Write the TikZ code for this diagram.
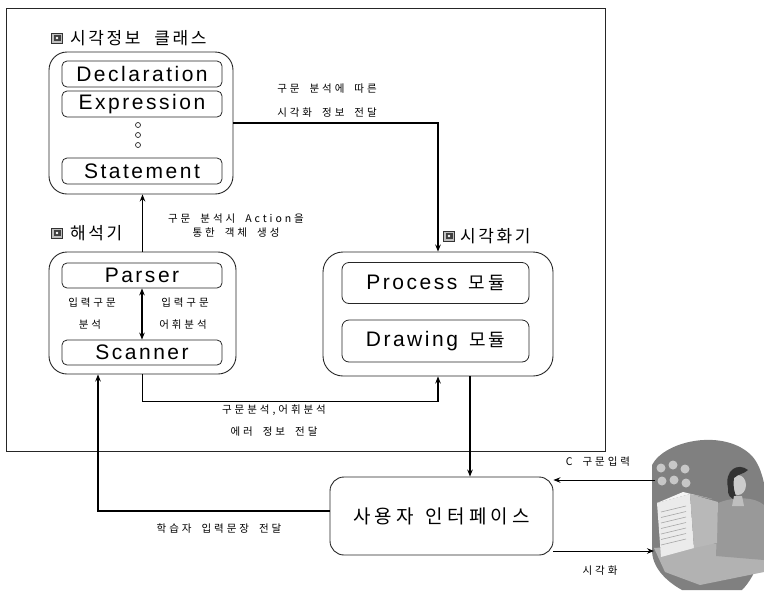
\documentclass[tikz,border=0pt]{standalone}
\usepackage{fontspec}
\setmainfont{Liberation Sans}
\newfontfamily\latw[LetterSpace=12]{Liberation Sans}
\newfontfamily\krt[LetterSpace=15,WordSpace=2.2]{Noto Sans CJK KR}
\newfontfamily\kru[LetterSpace=22,WordSpace=1.4]{Noto Sans CJK KR}
\newfontfamily\krs[LetterSpace=28,WordSpace=1.9]{Noto Sans CJK KR}
\usetikzlibrary{arrows.meta,calc}

\begin{document}
\begin{tikzpicture}[x=1pt,y=-1pt,
  grp/.style={draw=black!85,line width=0.9pt,rounded corners=18pt,inner sep=0pt},
  part/.style={draw=black!85,line width=0.8pt,rounded corners=5pt,inner sep=0pt,
    minimum width=160pt,minimum height=26pt,font=\fontsize{21}{21}\selectfont\latw},
  modbox/.style={part,minimum width=187pt,minimum height=41pt,rounded corners=7pt},
  arr/.style={line width=1.5pt,-{Stealth[length=7pt,width=5.5pt]}},
  dblarr/.style={line width=1.5pt,{Stealth[length=7pt,width=5.5pt]}-{Stealth[length=7pt,width=5.5pt]}},
  lbl/.style={font=\fontsize{10.5}{12}\selectfont\krs,inner sep=0pt},
  ttl/.style={font=\fontsize{17}{19}\selectfont\krt,inner sep=0pt,anchor=west},
  icon/.style={draw=black!80,line width=0.6pt,fill=black!25,minimum width=11pt,minimum height=10pt,inner sep=0pt,
    path picture={\fill[black!75]([shift={(2pt,-2pt)}]path picture bounding box.north west)
      rectangle ([shift={(-2pt,2pt)}]path picture bounding box.south east);
      \fill[white] (path picture bounding box.center) circle (1.3pt);}},
  dot/.style={circle,draw=black!85,line width=0.7pt,minimum size=5pt,inner sep=0pt}
]
\useasboundingbox (0,0) rectangle (764,590);

% outer frame of the system
\draw[black!85,line width=0.9pt] (6,8) rectangle (605,451);

% visual information classes
\node[icon] (ic1) at (57,38) {};
\node[ttl] (t1) at (70,38) {시각정보 클래스};
\node[grp,minimum width=184pt,minimum height=142pt] (cls) at (141,123) {};
\node[part] (decl) at (142,74) {Declaration};
\node[part] (expr) at (142,104) {Expression};
\node[dot] (d1) at (138,125) {};
\node[dot] (d2) at (138,135) {};
\node[dot] (d3) at (138,145) {};
\node[part] (stmt) at (142,171) {Statement};

% interpreter
\node[icon] (ic2) at (57,233) {};
\node[ttl] (t2) at (70,233) {해석기};
\node[grp,minimum width=187pt,minimum height=122pt] (psg) at (142.5,313) {};
\node[part,minimum height=25pt] (parser) at (142,275.5) {Parser};
\node[part,minimum height=25pt] (scanner) at (142,352.5) {Scanner};

% visualizer
\node[icon] (ic3) at (449,236) {};
\node[ttl] (t3) at (460,236) {시각화기};
\node[grp,rounded corners=20pt,minimum width=230pt,minimum height=124pt] (vis) at (438,314) {};
\node[modbox] (proc) at (435.5,283) {Process\hspace{3pt} {\fontsize{18}{18}\selectfont\krt 모듈}};
\node[modbox,minimum height=42pt] (draw) at (435.5,341) {Drawing\hspace{3pt} {\fontsize{18}{18}\selectfont\krt 모듈}};

% user interface
\node[grp,rounded corners=14pt,minimum width=223pt,minimum height=78pt,
  font=\fontsize{19}{19}\selectfont\kru] (ui) at (441.5,516) {사용자 인터페이스};

% labels
\node[lbl] (l1) at (327,89) {구문 분석에 따른};
\node[lbl] (l2) at (327,113) {시각화 정보 전달};
\node[lbl] (l3) at (236,219) {구문 분석시 Action을};
\node[lbl] (l4) at (236,233) {통한 객체 생성};
\node[lbl] (l5) at (92,303) {입력구문};
\node[lbl] (l6) at (90,325) {분석};
\node[lbl] (l7) at (185,303) {입력구문};
\node[lbl] (l8) at (183,325) {어휘분석};
\node[lbl] (l9) at (274,410) {구문분석,어휘분석};
\node[lbl] (l10) at (274,432) {에러 정보 전달};
\node[lbl] (l11) at (219,529) {학습자 입력문장 전달};
\node[lbl] (l12) at (598,462) {C 구문입력};
\node[lbl] (l13) at (600,571) {시각화};

% learner at the computer
\begin{scope}
  \clip (0,0) rectangle (764,590);
  \path[fill=black!50] (652,465) .. controls (665,440) and (725,428) .. (752,456)
    .. controls (774,480) and (772,560) .. (742,590) -- (682,590)
    .. controls (664,580) and (652,566) .. (652,550) -- cycle;
  % round ornaments
  \foreach \cx/\cy in {661/468,673/465,685/469,662/481,674/480,686/483}
    \fill[black!22] (\cx,\cy) circle (4.5pt);
  % desk
  \fill[black!30] (654,548) -- (764,540) -- (764,572) -- (700,585) -- (665,572) -- cycle;
  % body
  \fill[black!40] (718,503) .. controls (735,496) and (755,497) .. (764,505)
    -- (764,560) -- (716,556) -- cycle;
  % face and hair
  \fill[black!20] (738,485) ellipse (8pt and 10pt);
  \fill[black!80] (728,488) .. controls (724,470) and (738,462) .. (748,470)
    .. controls (744,474) and (738,474) .. (734,478) .. controls (733,486) and (734,494) .. (738,500)
    .. controls (730,500) and (727,494) .. (728,488) -- cycle;
  \fill[black!25] (734,496) -- (742,496) -- (744,506) -- (732,506) -- cycle;
  % monitor
  \fill[black!8] (657,503) -- (690,494) -- (694,548) -- (661,557) -- cycle;
  \fill[black!28] (690,494) -- (718,502) -- (717,543) -- (694,548) -- cycle;
  \fill[black!4] (657,503) -- (683,492) -- (712,499) -- (690,494) -- cycle;
  \foreach \k in {0,...,6}
    \draw[black!35,line width=0.6pt] (661,{512+5.5*\k}) -- (686,{506+5.5*\k});
\end{scope}
\coordinate (pin) at (655,480);
\coordinate (pout) at (654,551);

% connectors
\draw[arr] (cls.east) -| (vis.north);
\draw[arr] (psg.north) -- (psg.north |- cls.south);
\draw[dblarr] (parser.south) -- (scanner.north);
\draw[arr] (psg.south) -- ++(0,27) -| (vis.south);
\coordinate (vo) at ($(vis.south)+(32,0)$);
\draw[arr] (vo) -- (vo |- ui.north);
\coordinate (lx) at (98,0);
\draw[arr] ($(ui.west)+(0,-5)$) -| (lx |- psg.south);
\draw[arr,line width=1pt] (pin) -- (pin -| ui.east);
\draw[arr,line width=1pt] (pout -| ui.east) -- (pout);
\end{tikzpicture}
\end{document}
